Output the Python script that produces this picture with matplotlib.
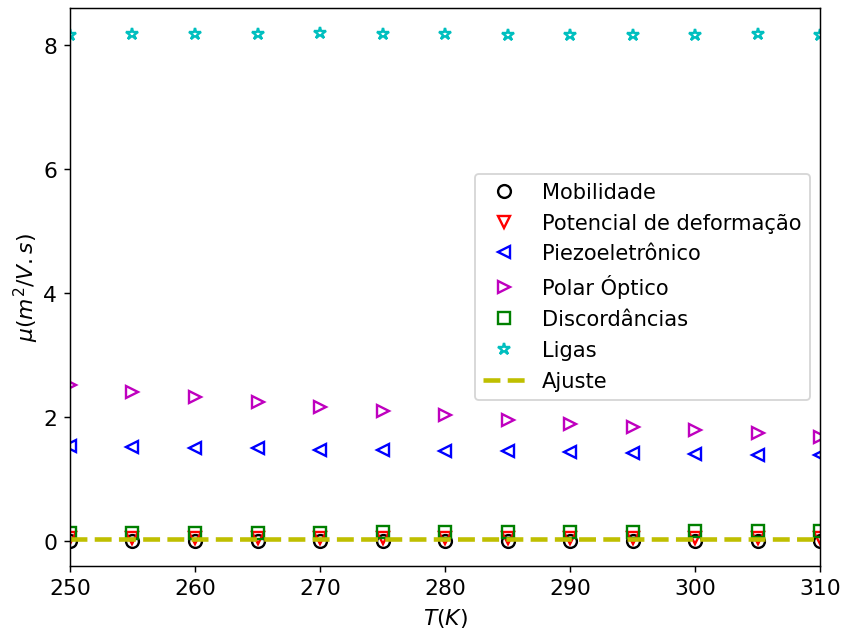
import numpy as np
import matplotlib
matplotlib.use('Agg')
import matplotlib.pyplot as plt

plt.rcParams['font.size'] = 12

T = [250, 255, 260, 265, 270, 275, 280, 285, 290, 295, 300, 305, 310]

mobilidade = [0.012, 0.012, 0.012, 0.012, 0.012, 0.012, 0.012, 0.012, 0.012, 0.012, 0.012, 0.012, 0.012]
deformacao = [0.05, 0.05, 0.05, 0.05, 0.05, 0.05, 0.05, 0.05, 0.05, 0.05, 0.05, 0.05, 0.05]
piezo = [1.535, 1.525, 1.51, 1.50, 1.48, 1.47, 1.46, 1.45, 1.44, 1.42, 1.41, 1.40, 1.385]
polar = [2.52, 2.41, 2.33, 2.25, 2.17, 2.10, 2.03, 1.96, 1.90, 1.85, 1.79, 1.74, 1.69]
discordancias = [0.13, 0.13, 0.135, 0.14, 0.14, 0.145, 0.145, 0.15, 0.15, 0.155, 0.16, 0.165, 0.17]
ligas = [8.16, 8.175, 8.19, 8.185, 8.2, 8.19, 8.18, 8.17, 8.16, 8.16, 8.16, 8.18, 8.17]
ajuste = [0.03, 0.03, 0.03, 0.03, 0.03, 0.03, 0.03, 0.03, 0.03, 0.03, 0.03, 0.03, 0.03]

fig = plt.figure(figsize=(6.4, 4.8), dpi=131.6)
ax = fig.add_subplot(111)
fig.subplots_adjust(left=0.083, right=0.974, top=0.987, bottom=0.103)

ms = 7
ax.plot(T, mobilidade, 'ko', mfc='none', ms=ms, mew=1.3, label='Mobilidade')
ax.plot(T, deformacao, 'rv', mfc='none', ms=ms, mew=1.3, label='Potencial de deformação')
ax.plot(T, piezo, 'b<', mfc='none', ms=ms, mew=1.3, label='Piezoeletrônico')
ax.plot(T, polar, 'm>', mfc='none', ms=ms, mew=1.3, label='Polar Óptico')
ax.plot(T, discordancias, 'gs', mfc='none', ms=ms, mew=1.3, label='Discordâncias')
ax.plot(T, ligas, 'c*', mfc='none', ms=ms, mew=1.3, label='Ligas')
ax.plot(T, ajuste, 'y--', lw=2.5, label='Ajuste')

ax.set_xlim(250, 310)
ax.set_xlabel('$T(K)$')
ax.set_ylabel('$\\mu(m^2/V.s)$', labelpad=1)
ax.legend(loc='center right', fontsize=11.5, labelspacing=0.52)

plt.savefig('out.png', dpi=131.6)
